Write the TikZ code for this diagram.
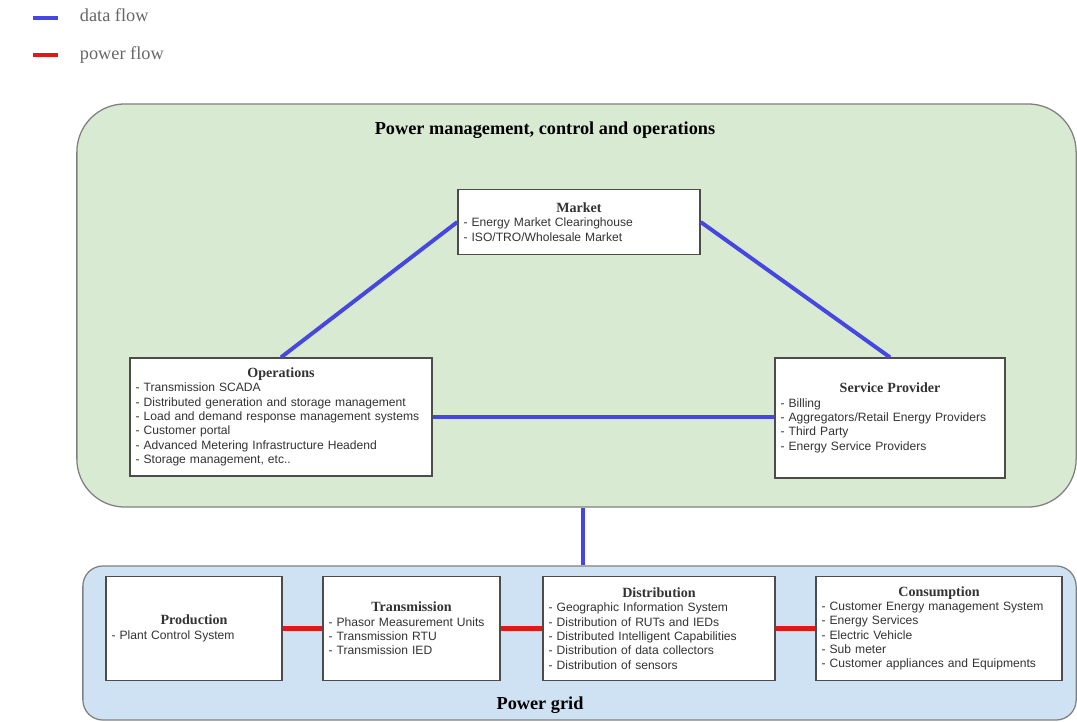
\documentclass[tikz,border=0pt]{standalone}
\usepackage{fontspec}
\setmainfont{Liberation Serif}
\setsansfont{Liberation Sans}

% Colores del diagrama
\definecolor{verdegestion}{HTML}{D9EAD3}
\definecolor{azulred}{HTML}{CFE2F3}
\definecolor{flujodatos}{HTML}{4646E0}
\definecolor{flujopotencia}{HTML}{E01818}

% Cabecera centrada de cada caja
\newcommand{\cabecera}[1]{\makebox[\linewidth]{\rmfamily\bfseries\fontsize{10}{10.2}\selectfont #1}}

\begin{document}
\begin{tikzpicture}[x=0.025cm,y=-0.025cm,
    region/.style={draw=black!50, line width=0.9pt},
    caja/.style={draw=black!70, fill=white, line width=0.9pt, align=left,
        inner xsep=4pt, minimum height=#1,
        font=\sffamily\fontsize{8.6}{10.2}\selectfont, text=black!80},
    datos/.style={flujodatos, line width=2.8pt},
    potencia/.style={flujopotencia, line width=3pt},
    leyenda/.style={anchor=west, text=black!60, font=\rmfamily\fontsize{13}{15}\selectfont},
    titulo/.style={font=\rmfamily\bfseries\fontsize{13}{15}\selectfont}]

        % Área de dibujo (proporciones de la imagen)
        \useasboundingbox (0,0) rectangle (1077,722);

        % Leyenda
        \coordinate (d1) at (33,18);
        \coordinate (d2) at (58,18);
        \coordinate (p1) at (33,55);
        \coordinate (p2) at (58,55);
        \draw[datos] (d1) -- (d2);
        \draw[potencia] (p1) -- (p2);
        \node[leyenda] (leyDatos) at (75,15) {data flow};
        \node[leyenda] (leyPotencia) at (75,55) {power flow};

        % Regiones de fondo: gestión (verde) y red eléctrica (azul)
        \node[region, fill=verdegestion, rounded corners=1.2cm, minimum width=24.975cm, minimum height=10.075cm] (gestion) at (576.5,305.5) {};
        \node[region, fill=azulred, rounded corners=0.5cm, minimum width=24.825cm, minimum height=3.85cm] (red) at (579.5,643) {};

        % Títulos de las regiones
        \node[titulo] (tituloGestion) at (545,130) {Power management, control and operations};
        \node[titulo] (tituloRed) at (540,705) {Power grid};

        % Cajas de la parte de gestión
        \node[caja=1.625cm, text width=5.77cm] (mercado) at (579,222)
            {\cabecera{Market}\\- Energy Market Clearinghouse\\- ISO/TRO/Wholesale Market};
        \node[caja=2.95cm, text width=7.27cm] (operaciones) at (281,417)
            {\cabecera{Operations}\\- Transmission SCADA\\- Distributed generation and storage management\\- Load and demand response management systems\\- Customer portal\\- Advanced Metering Infrastructure Headend\\- Storage management, etc..};
        \node[caja=3.0cm, text width=5.47cm] (proveedor) at (890,418)
            {\cabecera{Service Provider}\\- Billing\\- Aggregators/Retail Energy Providers\\- Third Party\\- Energy Service Providers};

        % Cajas de la red eléctrica
        \node[caja=2.6cm, text width=4.12cm] (produccion) at (194,628.5)
            {\cabecera{Production}\\- Plant Control System};
        \node[caja=2.6cm, text width=4.145cm] (transmision) at (411.5,628.5)
            {\cabecera{Transmission}\\- Phasor Measurement Units\\- Transmission RTU\\- Transmission IED};
        \node[caja=2.6cm, text width=5.52cm] (distribucion) at (659,628.5)
            {\cabecera{Distribution}\\- Geographic Information System\\- Distribution of RUTs and IEDs\\- Distributed Intelligent Capabilities\\- Distribution of data collectors\\- Distribution of sensors};
        \node[caja=2.6cm, text width=5.87cm] (consumo) at (939,628.5)
            {\cabecera{Consumption}\\- Customer Energy management System\\- Energy Services\\- Electric Vehicle\\- Sub meter\\- Customer appliances and Equipments};

        % Flujos de datos (azul)
        \draw[datos] (mercado.west) -- (operaciones.north);
        \draw[datos] (mercado.east) -- (proveedor.north);
        \draw[datos] (operaciones.east) -- (operaciones.east -| proveedor.west);
        \draw[datos] ([xshift=3pt]mercado |- gestion.south) -- ([xshift=3pt]mercado |- red.north);

        % Flujos de potencia (rojo)
        \draw[potencia] (produccion) -- (transmision);
        \draw[potencia] (transmision) -- (distribucion);
        \draw[potencia] (distribucion) -- (consumo);

    \end{tikzpicture}
\end{document}
